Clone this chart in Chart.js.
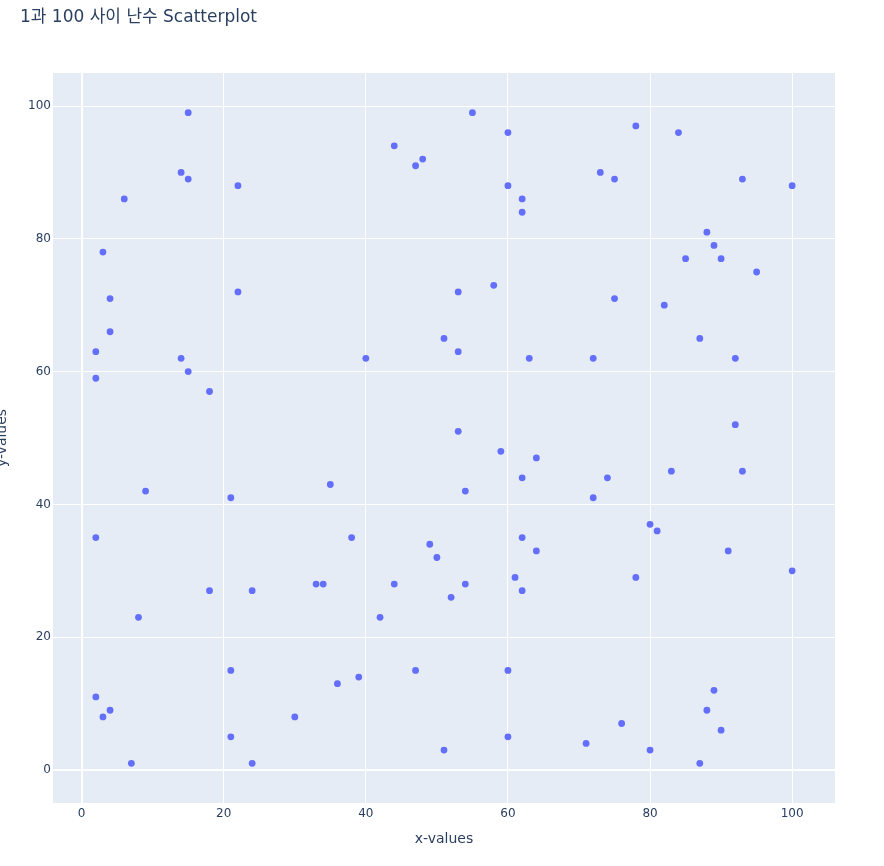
<!DOCTYPE html>
<html>
<head>
<meta charset="utf-8">
<script src="https://cdn.jsdelivr.net/npm/chart.js@4"></script>
<style>
  html, body { margin: 0; padding: 0; background: #fff; overflow: hidden; }
  #wrap { position: relative; width: 884px; height: 866px; overflow: hidden; }
  #chart { position: absolute; left: -10px; top: 0; }
</style>
</head>
<body>
<div id="wrap"><canvas id="chart" width="894" height="866"></canvas></div>
<script>
const TITLE = "1과 100 사이 난수 Scatterplot";
const X_LABEL = "x-values";
const Y_LABEL = "y-values";

const xValues = [
  15, 55, 60, 78, 84, 44, 48, 47, 14, 15,
  73, 75, 93, 22, 60, 100, 62, 62, 6, 3,
  88, 89, 85, 90, 95, 58, 22, 53, 4, 75,
  82, 4, 51, 87, 2, 53, 14, 40, 63, 72,
  92, 15, 2, 18, 92, 53, 59, 64, 83, 93,
  74, 62, 35, 9, 54, 21, 72, 2, 38, 62,
  80, 81, 49, 50, 64, 91, 100, 61, 78, 33,
  34, 44, 54, 18, 24, 62, 52, 8, 42, 21,
  47, 60, 36, 39, 2, 89, 3, 4, 30, 88,
  90, 21, 60, 76, 71, 51, 80, 7, 24, 87
];
const yValues = [
  99, 99, 96, 97, 96, 94, 92, 91, 90, 89,
  90, 89, 89, 88, 88, 88, 86, 84, 86, 78,
  81, 79, 77, 77, 75, 73, 72, 72, 71, 71,
  70, 66, 65, 65, 63, 63, 62, 62, 62, 62,
  62, 60, 59, 57, 52, 51, 48, 47, 45, 45,
  44, 44, 43, 42, 42, 41, 41, 35, 35, 35,
  37, 36, 34, 32, 33, 33, 30, 29, 29, 28,
  28, 28, 28, 27, 27, 27, 26, 23, 23, 15,
  15, 15, 13, 14, 11, 12, 8, 9, 8, 9,
  6, 5, 5, 7, 4, 3, 3, 1, 1, 1
];
const xTicks = [0, 20, 40, 60, 80, 100];
const yTicks = [0, 20, 40, 60, 80, 100];

const FONT = '"DejaVu Sans", Verdana, "Noto Sans CJK KR", sans-serif';
const TEXT = "#2a3f5f";

// plot background + title drawn like plotly
const plotlyBg = {
  id: "plotlyBg",
  beforeDraw(chart) {
    const { ctx, chartArea: a } = chart;
    ctx.save();
    ctx.fillStyle = "#E5ECF6";
    ctx.fillRect(a.left, a.top, a.right - a.left, a.bottom - a.top);
    ctx.fillStyle = TEXT;
    ctx.font = "17px " + FONT;
    ctx.textBaseline = "middle";
    ctx.fillText(TITLE, 30, 18);
    ctx.restore();
  }
};

const points = xValues.map((x, i) => ({ x: x, y: yValues[i] }));

new Chart(document.getElementById("chart"), {
  type: "scatter",
  data: {
    datasets: [{
      data: points,
      backgroundColor: "#636EFA",
      borderWidth: 0,
      pointRadius: 3.4,
      pointHoverRadius: 3.4
    }]
  },
  options: {
    responsive: false,
    animation: false,
    layout: { padding: { left: 0, right: 49, top: 73, bottom: 14 } },
    plugins: { legend: { display: false }, tooltip: { enabled: false }, title: { display: false } },
    scales: {
      x: {
        type: "linear",
        min: -4.03,
        max: 106.03,
        afterBuildTicks: s => { s.ticks = xTicks.map(v => ({ value: v })); },
        afterFit: s => { s.height = 49; },
        border: { display: false },
        grid: {
          color: "#ffffff",
          lineWidth: c => (c.tick && c.tick.value === 0 ? 2 : 1),
          drawTicks: false
        },
        ticks: { color: TEXT, font: { family: FONT, size: 12 }, padding: 4, maxRotation: 0 },
        title: {
          display: true, text: X_LABEL, color: TEXT,
          font: { family: FONT, size: 14 },
          padding: { top: 10, bottom: 4 }
        }
      },
      y: {
        type: "linear",
        min: -4.97,
        max: 104.97,
        afterBuildTicks: s => { s.ticks = yTicks.map(v => ({ value: v })); },
        afterFit: s => { s.width = 63; },
        border: { display: false },
        grid: {
          color: "#ffffff",
          lineWidth: c => (c.tick && c.tick.value === 0 ? 2 : 1),
          drawTicks: false
        },
        ticks: { color: TEXT, font: { family: FONT, size: 12 }, padding: 2 },
        title: {
          display: true, text: Y_LABEL, color: TEXT,
          font: { family: FONT, size: 14 },
          padding: { top: 4, bottom: 4 }
        }
      }
    }
  },
  plugins: [plotlyBg]
});
</script>
</body>
</html>
